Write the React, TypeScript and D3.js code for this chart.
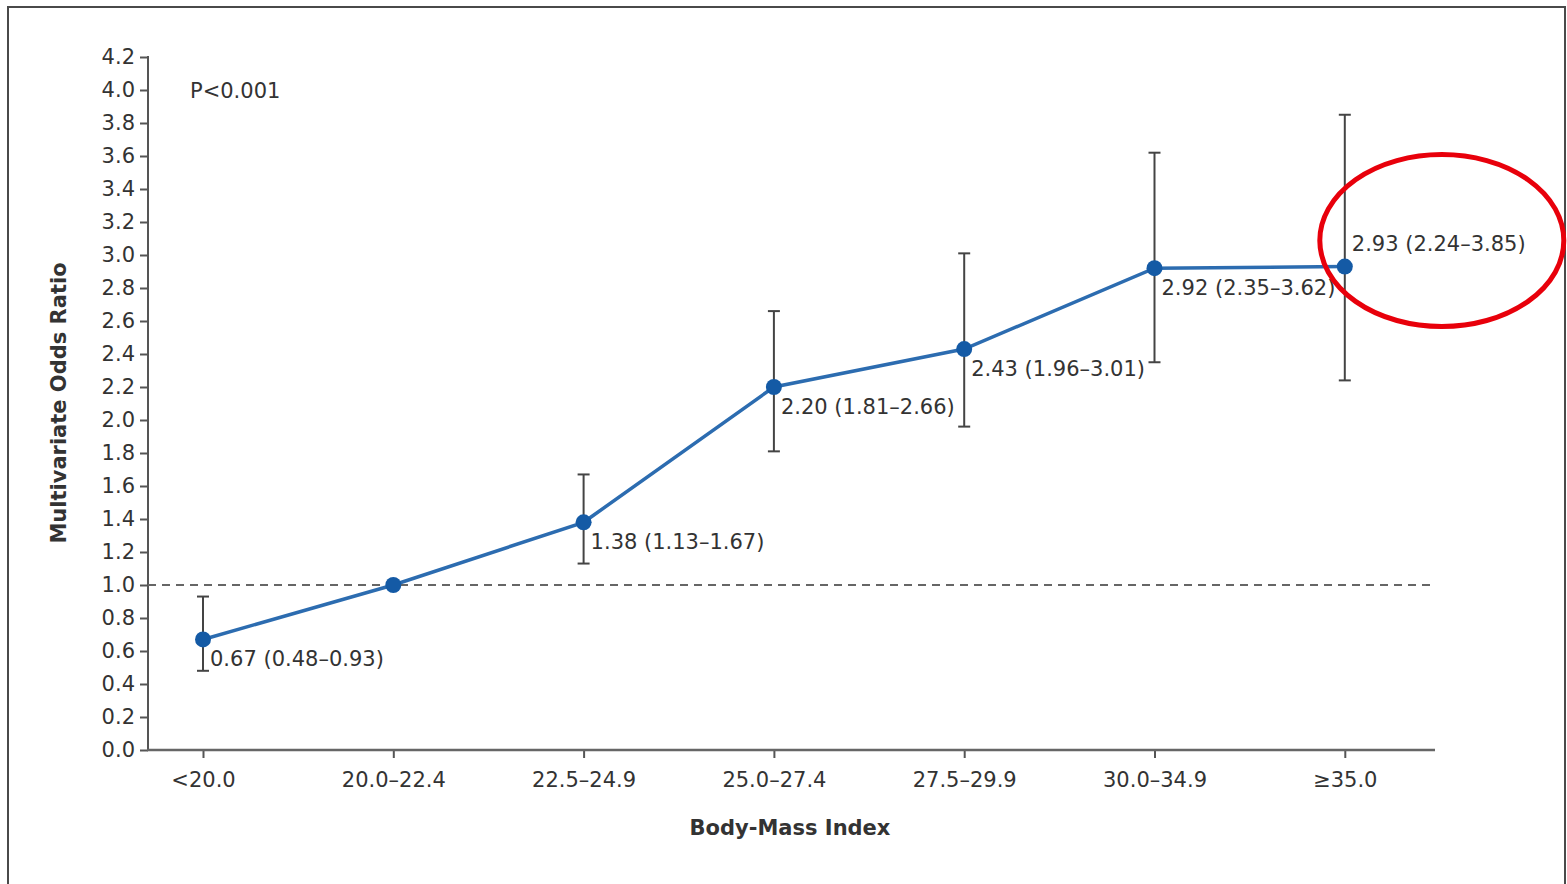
import React, { useEffect, useRef } from 'react';
import * as d3 from 'd3';

const categories = ['<20.0', '20.0–22.4', '22.5–24.9', '25.0–27.4', '27.5–29.9', '30.0–34.9', '≥35.0'];
const oddsRatio = [0.67, 1.0, 1.38, 2.2, 2.43, 2.92, 2.93];
const ciLow: (number | null)[] = [0.48, null, 1.13, 1.81, 1.96, 2.35, 2.24];
const ciHigh: (number | null)[] = [0.93, null, 1.67, 2.66, 3.01, 3.62, 3.85];
const pointLabels = ['0.67 (0.48–0.93)', '', '1.38 (1.13–1.67)', '2.20 (1.81–2.66)', '2.43 (1.96–3.01)', '2.92 (2.35–3.62)', '2.93 (2.24–3.85)'];
const labelSide = ['below', 'none', 'below', 'below', 'below', 'below', 'above'];
const yTicks = d3.range(0, 22).map(i => i * 0.2);

const FONT = '"DejaVu Sans", Verdana, sans-serif';

const App: React.FC = () => {
  const svgRef = useRef<SVGSVGElement>(null);

  useEffect(() => {
    if (!svgRef.current) return;
    const svg = d3.select(svgRef.current);
    svg.selectAll('*').remove();

    const width = 1567;
    const height = 884;
    const margin = { top: 57, left: 148, right: 132, bottom: 134 };
    const plotRight = width - margin.right;
    const plotBottom = height - margin.bottom;

    // Outer frame
    svg.append('rect').attr('width', width).attr('height', height).attr('fill', 'white');
    svg.append('path')
      .attr('d', `M8,${height} L8,7 L1565,7 L1565,${height}`)
      .attr('fill', 'none')
      .attr('stroke', '#4a4a4a')
      .attr('stroke-width', 2);

    const x = d3.scalePoint<string>()
      .domain(categories)
      .range([margin.left + 55, margin.left + 55 + 6 * 190.3]);
    const y = d3.scaleLinear().domain([0, 4.2]).range([plotBottom, margin.top]);

    // Y axis
    const yAxis = svg.append('g')
      .attr('transform', `translate(${margin.left},0)`)
      .call(d3.axisLeft(y).tickValues(yTicks).tickSize(8).tickPadding(5).tickFormat(d3.format('.1f')));
    yAxis.select('.domain').remove();
    yAxis.selectAll('line').attr('stroke', '#555').attr('stroke-width', 2);
    yAxis.selectAll('text').attr('font-family', FONT).attr('font-size', 21).attr('fill', '#333');
    svg.append('line')
      .attr('x1', margin.left).attr('x2', margin.left)
      .attr('y1', margin.top - 1).attr('y2', plotBottom + 1)
      .attr('stroke', '#555').attr('stroke-width', 2);

    // X axis
    const xAxis = svg.append('g')
      .attr('transform', `translate(0,${plotBottom})`)
      .call(d3.axisBottom(x).tickSize(8).tickPadding(14));
    xAxis.select('.domain').remove();
    xAxis.selectAll('line').attr('stroke', '#555').attr('stroke-width', 2);
    xAxis.selectAll('text').attr('font-family', FONT).attr('font-size', 21).attr('fill', '#333');
    svg.append('line')
      .attr('x1', margin.left - 1).attr('x2', plotRight)
      .attr('y1', plotBottom).attr('y2', plotBottom)
      .attr('stroke', '#666').attr('stroke-width', 2.5);

    // Reference line at OR = 1
    svg.append('line')
      .attr('x1', margin.left).attr('x2', plotRight)
      .attr('y1', y(1)).attr('y2', y(1))
      .attr('stroke', '#666').attr('stroke-width', 2)
      .attr('stroke-dasharray', '8 6');

    // Axis titles
    svg.append('text')
      .attr('x', 790).attr('y', plotBottom + 85)
      .attr('text-anchor', 'middle')
      .attr('font-family', FONT).attr('font-size', 21).attr('font-weight', 'bold').attr('fill', '#333')
      .text('Body-Mass Index');
    svg.append('text')
      .attr('transform', `translate(66,403) rotate(-90)`)
      .attr('text-anchor', 'middle')
      .attr('font-family', FONT).attr('font-size', 21).attr('font-weight', 'bold').attr('fill', '#333')
      .text('Multivariate Odds Ratio');

    svg.append('text')
      .attr('x', 190).attr('y', 98)
      .attr('font-family', FONT).attr('font-size', 21).attr('fill', '#333')
      .text('P<0.001');

    // Error bars
    categories.forEach((c, i) => {
      const lo = ciLow[i];
      const hi = ciHigh[i];
      if (lo === null || hi === null) return;
      const cx = x(c)!;
      const g = svg.append('g').attr('stroke', '#444').attr('stroke-width', 2);
      g.append('line').attr('x1', cx).attr('x2', cx).attr('y1', y(lo)).attr('y2', y(hi));
      g.append('line').attr('x1', cx - 6).attr('x2', cx + 6).attr('y1', y(lo)).attr('y2', y(lo));
      g.append('line').attr('x1', cx - 6).attr('x2', cx + 6).attr('y1', y(hi)).attr('y2', y(hi));
    });

    // Trend line
    const line = d3.line<number>()
      .x((_, i) => x(categories[i])!)
      .y(d => y(d));
    svg.append('path')
      .datum(oddsRatio)
      .attr('fill', 'none')
      .attr('stroke', '#2c6cb0')
      .attr('stroke-width', 3.5)
      .attr('d', line);

    svg.selectAll('circle.pt')
      .data(oddsRatio)
      .join('circle')
      .attr('class', 'pt')
      .attr('cx', (_, i) => x(categories[i])!)
      .attr('cy', d => y(d))
      .attr('r', 8)
      .attr('fill', '#145aa5');

    // Point labels
    oddsRatio.forEach((v, i) => {
      if (labelSide[i] === 'none') return;
      svg.append('text')
        .attr('x', x(categories[i])! + 7)
        .attr('y', y(v) + (labelSide[i] === 'above' ? -22 : 21))
        .attr('dominant-baseline', 'middle')
        .attr('font-family', FONT).attr('font-size', 21).attr('fill', '#333')
        .text(pointLabels[i]);
    });

    // Red annotation ellipse around the last estimate
    const last = oddsRatio.length - 1;
    svg.append('ellipse')
      .attr('cx', x(categories[last])! + 97)
      .attr('cy', y(oddsRatio[last]) - 26)
      .attr('rx', 122)
      .attr('ry', 86)
      .attr('fill', 'none')
      .attr('stroke', '#e8000b')
      .attr('stroke-width', 5);
  }, []);

  return (
    <svg
      ref={svgRef}
      width={1567}
      height={884}
      style={{ position: 'absolute', left: 0, top: 0, display: 'block' }}
    />
  );
};

export default App;
